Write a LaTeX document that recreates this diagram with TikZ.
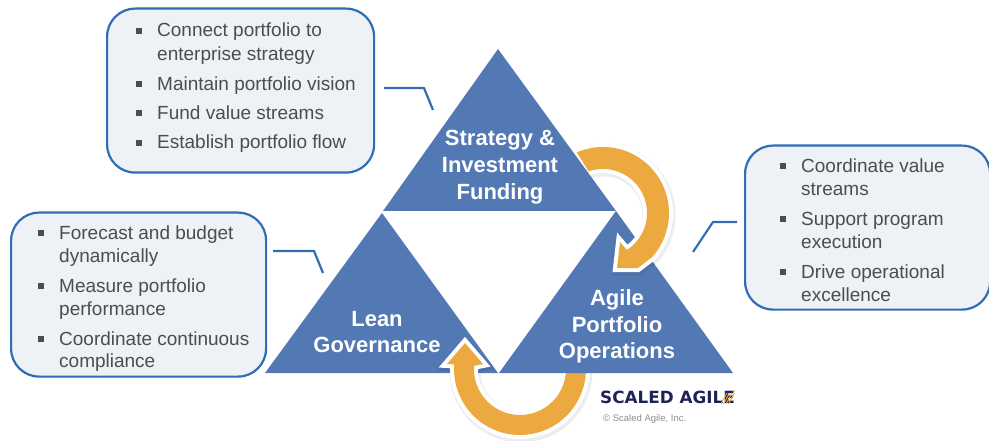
\documentclass[tikz,border=0pt]{standalone}
\usepackage{fontspec}
\setmainfont{Liberation Sans}
\newfontfamily\logofont{DejaVu Sans}
\definecolor{triblue}{HTML}{5379B5}
\definecolor{arroworange}{HTML}{ECA93F}
\definecolor{boxfill}{HTML}{EEF1F5}
\definecolor{boxline}{HTML}{2F6DB5}
\definecolor{bodytext}{HTML}{4D4D4D}
\definecolor{logonavy}{HTML}{1E2258}
\newcommand\toparrowpath{plot[domain=-113.4:42,samples=50] ({603+66*cos(\x)},{213+66*sin(\x)})
  -- (638,268) -- (617,268) -- (620,242) -- (626,249)
  -- plot[domain=57:-109,samples=50] ({603+44*cos(\x)},{213+44*sin(\x)}) -- cycle}
\newcommand\botarrowpath{plot[domain=-5:184,samples=50] ({520+66*cos(\x)},{369+66*sin(\x)})
  -- (447,364) -- (465,343) -- (483,364)
  -- plot[domain=184:-5,samples=50] ({520+46*cos(\x)},{369+46*sin(\x)}) -- cycle}
\tikzset{
  infobox/.style={draw=boxline,fill=boxfill,line width=2.2pt,rounded corners=28pt,anchor=north west,inner sep=0pt},
  itemtext/.style={anchor=base west,inner sep=0pt,text=bodytext,font=\fontsize{19pt}{23pt}\selectfont},
  itembullet/.style={fill=bodytext,inner sep=0pt,minimum size=6pt,rectangle},
  trilabel/.style={text=white,align=center,inner sep=0pt,font=\fontsize{22pt}{26.8pt}\selectfont\bfseries},
  leader/.style={draw=boxline,line width=2.2pt,line join=round},
  arrowshadow/.style={draw=black,draw opacity=.07,line width=11pt,line join=miter,shift={(1,2)}},
  arrowhalo/.style={draw=white,line width=8pt,line join=miter},
  arrowbody/.style={fill=arroworange}
}
\begin{document}
\begin{tikzpicture}[x=1pt,y=-1pt]
\useasboundingbox (0,0) rectangle (989,441);
% info boxes
\node[infobox,minimum width=267pt,minimum height=164pt] (boxa) at (106,7.5) {};
\node[infobox,minimum width=255pt,minimum height=164pt] (boxb) at (10,211.5) {};
\node[infobox,minimum width=245pt,minimum height=164pt] (boxc) at (744,144.5) {};
% box texts
\foreach \n/\t/\yb in {a1/Connect portfolio to/37,a2/enterprise strategy/61,a3/Maintain portfolio vision/90.5,a4/Fund value streams/120,a5/Establish portfolio flow/149}
  \node[itemtext] (\n) at (157,\yb) {\t};
\foreach \n/\yb in {ab1/31,ab2/84,ab3/113,ab4/143}
  \node[itembullet] (\n) at (139,\yb) {};
\foreach \n/\t/\yb in {b1/Forecast and budget/239.5,b2/dynamically/262.5,b3/Measure portfolio/292.5,b4/performance/315,b5/Coordinate continuous/345,b6/compliance/367.5}
  \node[itemtext] (\n) at (59,\yb) {\t};
\foreach \n/\yb in {bb1/233,bb2/286,bb3/339}
  \node[itembullet] (\n) at (41,\yb) {};
\foreach \n/\t/\yb in {c1/Coordinate value/172.5,c2/streams/195.5,c3/Support program/225.5,c4/execution/248.5,c5/Drive operational/278,c6/excellence/301}
  \node[itemtext] (\n) at (801,\yb) {\t};
\foreach \n/\yb in {cb1/166,cb2/219,cb3/272}
  \node[itembullet] (\n) at (783,\yb) {};
% leader lines
\coordinate (la1) at (384,88); \coordinate (la2) at (424,88); \coordinate (la3) at (433,110);
\coordinate (lb1) at (273,251); \coordinate (lb2) at (314,251); \coordinate (lb3) at (323,273);
\coordinate (lc1) at (737,222); \coordinate (lc2) at (713,222); \coordinate (lc3) at (693,252);
\draw[leader] (la1) -- (la2) -- (la3);
\draw[leader] (lb1) -- (lb2) -- (lb3);
\draw[leader] (lc1) -- (lc2) -- (lc3);
% left triangle and lower arrow
\fill[triblue] (382,213) -- (265,373) -- (498,373) -- cycle;
\draw[arrowshadow] \botarrowpath;
\draw[arrowhalo] \botarrowpath;
\fill[arrowbody] \botarrowpath;
\fill[triblue] (616,211) -- (499,373) -- (733,373) -- cycle;
% upper arrow and top triangle
\draw[arrowshadow] \toparrowpath;
\draw[arrowhalo] \toparrowpath;
\fill[arrowbody] \toparrowpath;
\fill[triblue] (498,49) -- (383,211) -- (616,211) -- cycle;
% triangle labels
\node[trilabel] (strategy) at (500,167) {Strategy \&\\Investment\\Funding};
\node[trilabel] (lean) at (377,332) {Lean\\Governance};
\node[trilabel] (agile) at (617,326.5) {Agile\\Portfolio\\Operations};
% logo
\node[anchor=base west,inner sep=0pt,text=logonavy,font=\logofont\fontsize{16.8pt}{18pt}\selectfont\bfseries] (logo) at (600,403) {SCALED AGILE};
\foreach \d in {0,2.5,5,7.5}
  \draw[arroworange,line width=.9pt] (721+\d,404) -- (727+\d,393);
\fill[arroworange] (734,391) circle (1pt);
\node[anchor=base west,inner sep=0pt,text=black!45,font=\fontsize{9.5pt}{11pt}\selectfont] (copy) at (603,421) {© Scaled Agile, Inc.};
\end{tikzpicture}
\end{document}
